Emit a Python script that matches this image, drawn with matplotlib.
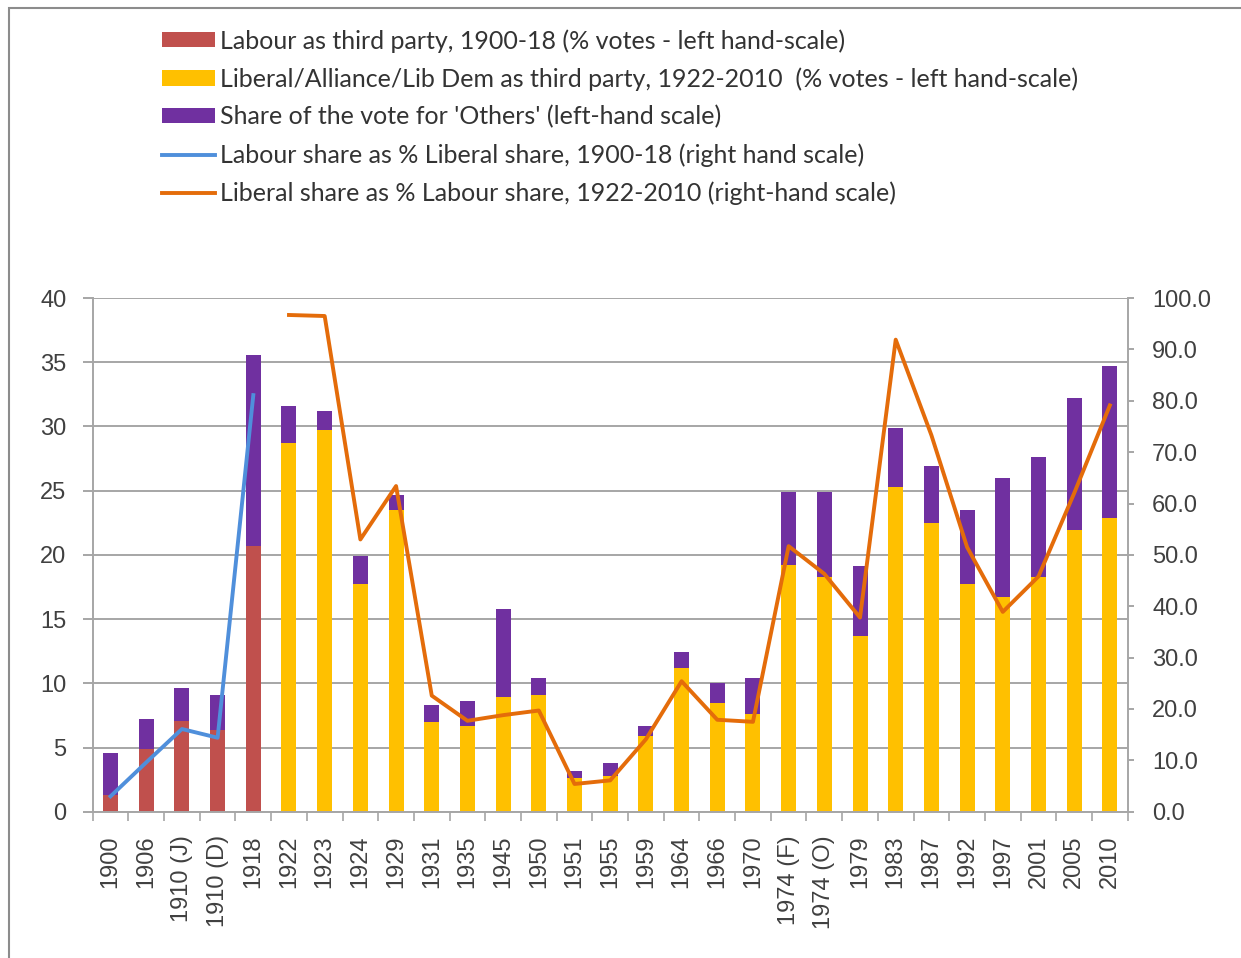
import numpy as np
import matplotlib
matplotlib.use("Agg")
import matplotlib.pyplot as plt
from matplotlib.patches import Patch, Rectangle
from matplotlib.lines import Line2D

# Datos
elections = ["1900", "1906", "1910 (J)", "1910 (D)", "1918", "1922", "1923", "1924",
             "1929", "1931", "1935", "1945", "1950", "1951", "1955", "1959", "1964",
             "1966", "1970", "1974 (F)", "1974 (O)", "1979", "1983", "1987", "1992",
             "1997", "2001", "2005", "2010"]

labour_third = [1.3, 4.9, 7.1, 6.4, 20.7] + [0] * 24
libdem_third = [0] * 5 + [28.7, 29.7, 17.7, 23.5, 7.0, 6.7, 8.9, 9.1, 2.6, 2.8, 5.9,
                          11.2, 8.5, 7.6, 19.2, 18.3, 13.7, 25.3, 22.5, 17.7, 16.7,
                          18.3, 21.9, 22.9]
others = [3.3, 2.3, 2.5, 2.7, 14.9, 2.9, 1.5, 2.2, 1.2, 1.3, 1.9, 6.9, 1.3, 0.6, 1.0,
          0.8, 1.2, 1.5, 2.8, 5.7, 6.6, 5.4, 4.6, 4.4, 5.8, 9.3, 9.3, 10.3, 11.8]

labour_pct_liberal = [3.0, 9.6, 16.1, 14.4, 81.1]
liberal_pct_labour = [96.7, 96.5, 53.0, 63.4, 22.6, 17.7, 18.8, 19.7, 5.4, 6.1, 14.1,
                      25.4, 17.9, 17.5, 51.7, 46.3, 37.8, 91.9, 73.3, 51.5, 38.9,
                      45.8, 62.0, 79.1]

legend_labels = [
    "Labour as third party, 1900-18 (% votes - left hand-scale)",
    "Liberal/Alliance/Lib Dem as third party, 1922-2010  (% votes - left hand-scale)",
    "Share of the vote for 'Others' (left-hand scale)",
    "Labour share as % Liberal share, 1900-18 (right hand scale)",
    "Liberal share as % Labour share, 1922-2010 (right-hand scale)",
]

c_red = "#C0504D"
c_yellow = "#FFC000"
c_purple = "#7030A0"
c_blue = "#4F8FDB"
c_orange = "#E46C0A"
c_text = "#404040"
c_grid = "#A6A6A6"

plt.rcParams["font.family"] = ["Liberation Sans", "DejaVu Sans"]

x = np.arange(len(elections))
third = np.array(labour_third) + np.array(libdem_third)

fig = plt.figure(figsize=(12.41, 9.58), dpi=100)
ax = fig.add_axes([0.0747, 0.1527, 0.8340, 0.5362])

# Barras apiladas
ax.bar(x, labour_third, width=0.42, color=c_red, zorder=2)
ax.bar(x, libdem_third, width=0.42, color=c_yellow, zorder=2)
ax.bar(x, others, width=0.42, bottom=third, color=c_purple, zorder=2)

ax.set_xlim(-0.5, len(elections) - 0.5)
ax.set_ylim(0, 40)
ax.set_yticks(range(0, 41, 5))
ax.yaxis.grid(True, color=c_grid, linewidth=1.4, zorder=0)
ax.set_axisbelow(True)

ax.set_xticks(x)
ax.set_xticklabels(elections, rotation=90, fontsize=17, color=c_text)
ax.set_xticks(np.arange(-0.5, len(elections)), minor=True)
ax.tick_params(axis="x", which="major", length=0, pad=17)
ax.tick_params(axis="x", which="minor", length=6.5, width=1.2, color=c_grid, direction="out")
ax.tick_params(axis="y", length=7, width=1.4, color=c_grid, labelsize=17,
               labelcolor=c_text, pad=12)

for s in ["top", "right"]:
    ax.spines[s].set_visible(False)
ax.spines["left"].set_color(c_grid)
ax.spines["left"].set_linewidth(1.4)
ax.spines["bottom"].set_color(c_grid)
ax.spines["bottom"].set_linewidth(1.4)

# Eje derecho
ax2 = ax.twinx()
ax2.plot(x[:5], labour_pct_liberal, color=c_blue, linewidth=2.8, zorder=3)
ax2.plot(x[5:], liberal_pct_labour, color=c_orange, linewidth=2.8, zorder=3)
ax2.set_ylim(0, 100)
ax2.set_yticks(range(0, 101, 10))
ax2.set_yticklabels([f"{v:.1f}" for v in range(0, 101, 10)])
ax2.tick_params(axis="y", length=4.5, width=1.4, color=c_grid, labelsize=17,
                labelcolor=c_text, pad=13)
for s in ["top", "left", "bottom"]:
    ax2.spines[s].set_visible(False)
ax2.spines["right"].set_color(c_grid)
ax2.spines["right"].set_linewidth(1.4)

# Leyenda
handles = [
    Patch(facecolor=c_red),
    Patch(facecolor=c_yellow),
    Patch(facecolor=c_purple),
    Line2D([], [], color=c_blue, linewidth=2.8),
    Line2D([], [], color=c_orange, linewidth=2.8),
]
fig.legend(handles, legend_labels, loc="upper left", bbox_to_anchor=(0.1226, 0.980),
           frameon=False, prop={"family": "Lato", "size": 18}, labelcolor="#333333",
           handlelength=2.1, handleheight=0.55, handletextpad=0.2, labelspacing=0.58,
           borderaxespad=0)

# Marco de la figura
fig.add_artist(Rectangle((9 / 1241, -0.1), 1.2, 1.1 - 8.5 / 958, transform=fig.transFigure,
                         fill=False, edgecolor="#8C8C8C", linewidth=1.5))

plt.savefig("out.png", dpi=100)
